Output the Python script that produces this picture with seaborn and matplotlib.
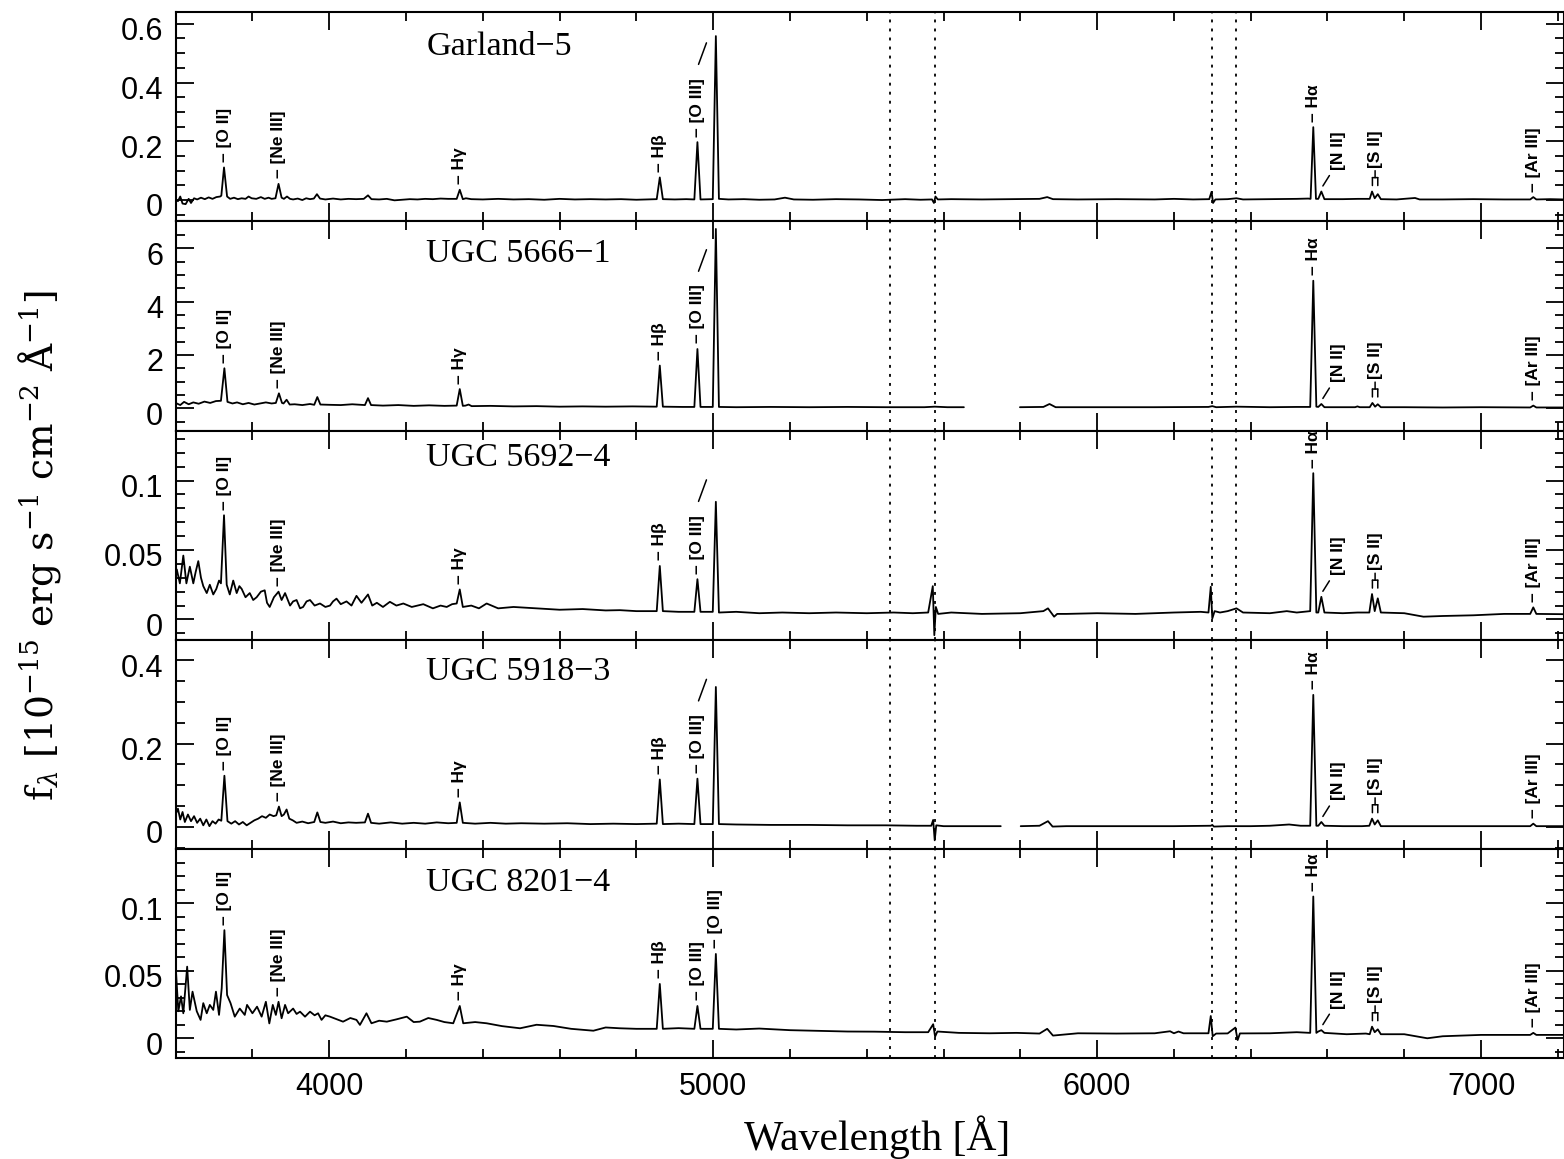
import numpy as np
import pandas as pd
import matplotlib
matplotlib.use("Agg")
import matplotlib.pyplot as plt
from matplotlib.transforms import ScaledTranslation
from matplotlib.ticker import MultipleLocator, FuncFormatter
import seaborn as sns

# ---------------------------------------------------------------------------
# Spectra: (wavelength [Å], f_lambda [1e-15 erg/s/cm^2/Å]) vertices.
# None marks a gap in the wavelength coverage.
# ---------------------------------------------------------------------------
GARLAND5 = [
    (3600, 0.003), (3606, -0.004), (3612, 0.012), (3618, -0.012), (3626, -0.014),
    (3634, 0.004), (3640, -0.010), (3648, 0.006), (3656, 0.002), (3666, 0.008),
    (3676, 0.003), (3686, 0.009), (3696, 0.004), (3706, 0.010), (3716, 0.012),
    (3719, 0.015), (3726, 0.111), (3734, 0.012), (3742, 0.004), (3752, 0.008),
    (3762, 0.003), (3772, 0.006), (3782, 0.004), (3790, 0.012), (3798, 0.006),
    (3810, 0.004), (3822, 0.010), (3832, 0.004), (3842, 0.008), (3850, 0.004),
    (3860, 0.006), (3868, 0.055), (3876, 0.008), (3882, 0.004), (3890, 0.012),
    (3898, 0.004), (3906, 0.002), (3918, 0.005), (3930, 0.000), (3940, 0.006),
    (3950, 0.003), (3960, 0.005), (3968, 0.020), (3976, 0.005), (3990, 0.002),
    (4010, 0.005), (4030, 0.002), (4050, 0.004), (4070, 0.003), (4090, 0.004),
    (4101, 0.016), (4110, 0.003), (4130, 0.002), (4150, 0.004), (4170, -0.001),
    (4190, 0.001), (4210, 0.003), (4230, 0.002), (4250, 0.004), (4270, 0.003),
    (4290, 0.005), (4310, 0.004), (4332, 0.004), (4340, 0.035), (4348, 0.003),
    (4356, 0.006), (4370, 0.003), (4400, 0.002), (4440, 0.004), (4480, 0.002),
    (4520, 0.003), (4560, 0.001), (4600, 0.004), (4640, 0.002), (4680, 0.003),
    (4720, 0.002), (4760, 0.003), (4800, 0.001), (4845, 0.003), (4853, 0.003),
    (4861, 0.077), (4869, 0.003), (4900, 0.002), (4930, 0.003), (4951, 0.002),
    (4959, 0.197), (4967, 0.002), (4999, 0.003), (5007, 0.558), (5015, 0.004),
    (5040, 0.002), (5080, 0.003), (5120, 0.001), (5160, 0.002), (5187, 0.008),
    (5210, 0.002), (5260, 0.001), (5320, 0.003), (5380, 0.002), (5440, 0.000),
    (5500, 0.003), (5540, 0.001), (5570, 0.002), (5575, -0.010), (5579, 0.012),
    (5585, 0.002), (5620, 0.003), (5700, 0.002), (5780, 0.003), (5850, 0.004),
    (5870, 0.010), (5885, 0.003), (5950, 0.002), (6050, 0.003), (6150, 0.002),
    (6200, 0.004), (6250, 0.002), (6292, 0.003), (6298, 0.028), (6302, -0.010),
    (6308, 0.002), (6340, 0.003), (6363, 0.006), (6380, 0.002), (6450, 0.003),
    (6520, 0.004), (6550, 0.005), (6556, 0.004), (6563, 0.248), (6570, 0.004),
    (6576, 0.004), (6584, 0.029), (6592, 0.003), (6640, 0.003), (6680, 0.004),
    (6710, 0.004), (6716, 0.029), (6723, 0.006), (6731, 0.020), (6739, 0.003),
    (6780, 0.002), (6828, 0.007), (6840, 0.002), (6900, 0.002), (6980, 0.003),
    (7060, 0.002), (7128, 0.002), (7136, 0.010), (7144, 0.002), (7180, 0.003),
    (7216, 0.002),
]

UGC5666_1 = [
    (3600, 0.20), (3612, 0.12), (3622, 0.24), (3634, 0.15), (3646, 0.22),
    (3660, 0.17), (3675, 0.25), (3690, 0.20), (3705, 0.27), (3718, 0.28),
    (3727, 1.50), (3735, 0.24), (3748, 0.18), (3760, 0.22), (3775, 0.15),
    (3790, 0.20), (3805, 0.14), (3820, 0.18), (3835, 0.22), (3850, 0.18),
    (3861, 0.20), (3869, 0.56), (3877, 0.20), (3881, 0.18), (3889, 0.32),
    (3897, 0.14), (3910, 0.15), (3930, 0.12), (3950, 0.16), (3961, 0.13),
    (3969, 0.42), (3977, 0.14), (4000, 0.13), (4030, 0.12), (4060, 0.15),
    (4093, 0.12), (4101, 0.38), (4109, 0.12), (4140, 0.10), (4180, 0.12),
    (4220, 0.09), (4260, 0.11), (4300, 0.09), (4332, 0.10), (4340, 0.72),
    (4348, 0.09), (4355, 0.10), (4363, 0.14), (4371, 0.08), (4420, 0.09),
    (4480, 0.07), (4540, 0.08), (4600, 0.06), (4660, 0.07), (4720, 0.06),
    (4790, 0.07), (4853, 0.06), (4861, 1.60), (4869, 0.06), (4920, 0.05),
    (4951, 0.05), (4959, 2.22), (4967, 0.05), (4999, 0.05), (5007, 6.72),
    (5015, 0.05), (5060, 0.04), (5150, 0.05), (5250, 0.04), (5350, 0.05),
    (5450, 0.04), (5550, 0.04), (5577, 0.06), (5610, 0.04), (5653, 0.04),
    None,
    (5799, 0.04), (5860, 0.05), (5876, 0.16), (5892, 0.04), (6000, 0.04),
    (6150, 0.04), (6290, 0.05), (6300, 0.08), (6310, 0.04), (6363, 0.06),
    (6450, 0.04), (6520, 0.05), (6555, 0.05), (6563, 4.78), (6571, 0.06),
    (6576, 0.05), (6584, 0.16), (6592, 0.04), (6640, 0.04), (6672, 0.04),
    (6678, 0.07), (6684, 0.04), (6710, 0.04), (6717, 0.20), (6724, 0.06),
    (6731, 0.15), (6739, 0.04), (6800, 0.04), (6900, 0.03), (7000, 0.04),
    (7128, 0.03), (7136, 0.10), (7144, 0.03), (7216, 0.03),
]

UGC5692_4 = [
    (3600, 0.030), (3603, 0.036), (3611, 0.026), (3620, 0.046), (3628, 0.026),
    (3637, 0.038), (3646, 0.026), (3652, 0.034), (3659, 0.042), (3666, 0.030),
    (3672, 0.024), (3681, 0.019), (3689, 0.025), (3698, 0.018), (3706, 0.022),
    (3713, 0.028), (3718, 0.026), (3726, 0.075), (3733, 0.025), (3741, 0.018),
    (3750, 0.028), (3759, 0.019), (3766, 0.024), (3772, 0.022), (3782, 0.016),
    (3793, 0.019), (3802, 0.014), (3811, 0.016), (3822, 0.020), (3832, 0.021),
    (3838, 0.012), (3845, 0.009), (3856, 0.016), (3868, 0.020), (3876, 0.014),
    (3885, 0.019), (3898, 0.010), (3906, 0.013), (3915, 0.014), (3924, 0.008),
    (3932, 0.009), (3941, 0.013), (3950, 0.014), (3962, 0.010), (3976, 0.0115),
    (3990, 0.009), (4002, 0.010), (4010, 0.013), (4019, 0.015), (4030, 0.011),
    (4045, 0.013), (4058, 0.010), (4071, 0.017), (4084, 0.012), (4101, 0.018),
    (4112, 0.010), (4124, 0.012), (4140, 0.009), (4158, 0.0127), (4175, 0.010),
    (4193, 0.0115), (4215, 0.009), (4245, 0.011), (4270, 0.008), (4290, 0.010),
    (4306, 0.009), (4320, 0.011), (4332, 0.0115), (4340, 0.0216), (4348, 0.009),
    (4370, 0.010), (4390, 0.008), (4410, 0.0115), (4440, 0.008), (4480, 0.009),
    (4540, 0.008), (4600, 0.007), (4660, 0.0075), (4720, 0.0065), (4757, 0.0067),
    (4800, 0.006), (4853, 0.006), (4861, 0.0385), (4869, 0.006), (4910, 0.0055),
    (4951, 0.0055), (4959, 0.029), (4967, 0.0055), (4999, 0.0055), (5007, 0.0847),
    (5015, 0.005), (5060, 0.0055), (5120, 0.0045), (5180, 0.005), (5250, 0.0045),
    (5320, 0.005), (5400, 0.0045), (5470, 0.005), (5520, 0.0045), (5560, 0.005),
    (5572, 0.024), (5576, -0.0113), (5580, 0.009), (5586, 0.004), (5620, 0.005),
    (5700, 0.004), (5800, 0.0045), (5860, 0.006), (5872, 0.008), (5880, 0.005),
    (5888, 0.002), (5896, 0.004), (5920, 0.004), (6000, 0.0045), (6100, 0.004),
    (6200, 0.005), (6270, 0.0055), (6290, 0.005), (6296, 0.0235), (6300, 0.0007),
    (6306, 0.006), (6320, 0.005), (6340, 0.006), (6363, 0.008), (6380, 0.005),
    (6450, 0.0045), (6494, 0.006), (6520, 0.005), (6555, 0.006), (6563, 0.1053),
    (6571, 0.005), (6576, 0.005), (6584, 0.0163), (6592, 0.005), (6640, 0.0045),
    (6678, 0.005), (6709, 0.005), (6716, 0.0183), (6723, 0.006), (6731, 0.0152),
    (6739, 0.005), (6800, 0.0045), (6850, 0.002), (6900, 0.0025), (6980, 0.003),
    (7060, 0.004), (7128, 0.004), (7136, 0.0087), (7144, 0.004), (7216, 0.0038),
]

UGC5918_3 = [
    (3600, 0.030), (3606, 0.044), (3612, 0.018), (3618, 0.036), (3624, 0.012),
    (3632, 0.030), (3640, 0.014), (3648, 0.026), (3656, 0.010), (3664, 0.020),
    (3672, 0.004), (3680, 0.018), (3688, 0.002), (3696, 0.014), (3704, 0.008),
    (3712, 0.018), (3719, 0.015), (3727, 0.123), (3735, 0.014), (3745, 0.008),
    (3755, 0.014), (3765, 0.006), (3775, 0.012), (3785, 0.004), (3795, 0.010),
    (3805, 0.016), (3815, 0.020), (3825, 0.026), (3835, 0.022), (3845, 0.030),
    (3855, 0.026), (3862, 0.028), (3869, 0.049), (3876, 0.026), (3882, 0.030),
    (3889, 0.042), (3896, 0.020), (3905, 0.016), (3915, 0.010), (3930, 0.013),
    (3945, 0.009), (3961, 0.012), (3969, 0.035), (3977, 0.012), (3990, 0.010),
    (4010, 0.013), (4030, 0.009), (4050, 0.011), (4070, 0.010), (4093, 0.011),
    (4101, 0.032), (4109, 0.010), (4130, 0.008), (4160, 0.011), (4190, 0.008),
    (4220, 0.010), (4250, 0.008), (4280, 0.011), (4310, 0.009), (4332, 0.010),
    (4340, 0.059), (4348, 0.010), (4380, 0.008), (4420, 0.010), (4460, 0.008),
    (4500, 0.009), (4560, 0.008), (4620, 0.009), (4680, 0.007), (4740, 0.008),
    (4800, 0.007), (4853, 0.008), (4861, 0.114), (4869, 0.007), (4910, 0.008),
    (4951, 0.007), (4959, 0.116), (4967, 0.007), (4999, 0.007), (5007, 0.336),
    (5015, 0.007), (5060, 0.006), (5150, 0.005), (5250, 0.005), (5350, 0.004),
    (5450, 0.004), (5530, 0.003), (5568, 0.003), (5573, 0.017), (5577, -0.032),
    (5581, 0.004), (5600, 0.002), (5680, 0.002), (5749, 0.002),
    None,
    (5801, 0.002), (5850, 0.003), (5872, 0.014), (5884, 0.001), (5920, 0.002),
    (6000, 0.002), (6100, 0.002), (6200, 0.002), (6296, 0.003), (6300, 0.005),
    (6304, 0.001), (6340, 0.002), (6363, 0.002), (6400, 0.002), (6450, 0.003),
    (6500, 0.006), (6530, 0.003), (6555, 0.003), (6563, 0.317), (6571, 0.003),
    (6576, 0.003), (6584, 0.012), (6592, 0.003), (6640, 0.002), (6690, 0.002),
    (6709, 0.003), (6716, 0.020), (6723, 0.006), (6731, 0.016), (6739, 0.002),
    (6800, 0.002), (6900, 0.002), (7000, 0.002), (7128, 0.002), (7136, 0.008),
    (7144, 0.002), (7216, 0.002),
]

UGC8201_4 = [
    (3601, 0.049), (3607, 0.020), (3614, 0.031), (3620, 0.0185), (3630, 0.053),
    (3637, 0.021), (3644, 0.0345), (3655, 0.020), (3665, 0.0136), (3672, 0.026),
    (3681, 0.0185), (3689, 0.0247), (3698, 0.021), (3705, 0.0345), (3713, 0.0173),
    (3720, 0.037), (3727, 0.080), (3734, 0.032), (3743, 0.026), (3754, 0.016),
    (3767, 0.022), (3780, 0.0173), (3786, 0.0247), (3800, 0.0185), (3812, 0.0234),
    (3824, 0.016), (3835, 0.027), (3844, 0.011), (3853, 0.0247), (3861, 0.0173),
    (3868, 0.027), (3876, 0.0148), (3885, 0.0247), (3893, 0.0185), (3906, 0.022),
    (3915, 0.018), (3924, 0.0197), (3937, 0.016), (3950, 0.0197), (3962, 0.017),
    (3971, 0.0185), (3980, 0.0136), (3990, 0.017), (4002, 0.016), (4020, 0.014),
    (4036, 0.0123), (4055, 0.015), (4071, 0.0136), (4080, 0.0099), (4097, 0.0185),
    (4110, 0.0111), (4130, 0.013), (4150, 0.0123), (4175, 0.014), (4202, 0.016),
    (4220, 0.012), (4236, 0.0123), (4258, 0.015), (4280, 0.0136), (4300, 0.012),
    (4323, 0.0111), (4340, 0.0239), (4349, 0.0111), (4380, 0.012), (4410, 0.0111),
    (4450, 0.009), (4497, 0.0074), (4540, 0.010), (4584, 0.0091), (4630, 0.007),
    (4688, 0.0056), (4720, 0.008), (4757, 0.0074), (4800, 0.007), (4853, 0.007),
    (4861, 0.0402), (4869, 0.007), (4910, 0.0075), (4951, 0.007), (4959, 0.0239),
    (4967, 0.007), (4999, 0.007), (5007, 0.0624), (5015, 0.007), (5060, 0.0065),
    (5120, 0.0072), (5200, 0.006), (5280, 0.0055), (5350, 0.005), (5420, 0.0049),
    (5500, 0.0045), (5560, 0.0045), (5573, 0.0104), (5578, 0.0012), (5584, 0.005),
    (5640, 0.004), (5720, 0.0037), (5790, 0.004), (5850, 0.0035), (5870, 0.007),
    (5885, 0.002), (5950, 0.0037), (6050, 0.0035), (6150, 0.0037), (6190, 0.0052),
    (6200, 0.0037), (6212, 0.005), (6225, 0.0037), (6290, 0.0037), (6296, 0.0165),
    (6301, 0.0015), (6310, 0.0035), (6340, 0.0036), (6360, 0.0079), (6366, -0.0013),
    (6372, 0.0036), (6450, 0.0037), (6520, 0.0045), (6555, 0.004), (6563, 0.1049),
    (6571, 0.004), (6576, 0.005), (6584, 0.006), (6592, 0.004), (6650, 0.003),
    (6700, 0.0035), (6710, 0.003), (6716, 0.0086), (6723, 0.0045), (6731, 0.0066),
    (6739, 0.003), (6800, 0.003), (6860, 0.000), (6900, 0.0015), (7000, 0.0025),
    (7128, 0.0025), (7136, 0.004), (7144, 0.0025), (7216, 0.0025),
]

SPECTRA = [GARLAND5, UGC5666_1, UGC5692_4, UGC5918_3, UGC8201_4]
NAMES = ["Garland\u22125", "UGC 5666\u22121", "UGC 5692\u22124",
         "UGC 5918\u22123", "UGC 8201\u22124"]
YLIMS = [(-0.073, 0.639), (-0.84, 7.0), (-0.0147, 0.1359),
         (-0.053, 0.449), (-0.0148, 0.140)]
YMAJOR = [0.2, 2, 0.05, 0.2, 0.05]
YMINOR = [0.05, 0.5, 0.01, 0.05, 0.01]
NAME_Y = [0.795, 0.808, 0.829, 0.810, 0.801]   # baseline, axes fraction
XLIM = (3600, 7216)
SKY_LINES = [5460, 5577, 6300, 6363]

# Emission lines marked with a tick and a vertical label
SIMPLE_LINES = [("[O II]", 3727), ("[Ne III]", 3869), ("H\u03b3", 4340),
                ("H\u03b2", 4861), ("[O III]", 4959), ("H\u03b1", 6563),
                ("[Ar III]", 7136)]
OIII_RED = 5007
NII = 6584
SII_PAIR = (6717, 6731)
# panels where [O III] 5007 has its own label instead of the slanted link
OIII_SEPARATE = [False, False, False, False, True]

# ---------------------------------------------------------------------------
sns.set_theme(style="ticks", rc={
    "text.color": "black", "axes.labelcolor": "black",
    "xtick.color": "black", "ytick.color": "black",
    "axes.edgecolor": "black", "axes.linewidth": 1.5,
})
plt.rcParams["font.family"] = ["Liberation Sans", "DejaVu Sans"]
plt.rcParams["mathtext.fontset"] = "dejavuserif"

fig, axes = plt.subplots(5, 1, sharex=True, figsize=(15.64, 11.59), dpi=100)
fig.subplots_adjust(left=0.1123, right=1.0, top=0.9894, bottom=0.0869, hspace=0)

LABEL_FONT = dict(family=["Liberation Sans", "DejaVu Sans"], fontsize=12.5,
                  fontweight="bold", color="black")


def to_frame(vertices):
    rows, seg = [], 0
    for v in vertices:
        if v is None:
            seg += 1
            continue
        rows.append((v[0], v[1], seg))
    return pd.DataFrame(rows, columns=["wave", "flux", "segment"])


def peak(df, lam, win=6):
    sel = df[(df["wave"] - lam).abs() <= win]
    return sel["flux"].max()


def shifted(ax, dx_pt, dy_pt):
    return ax.transData + ScaledTranslation(dx_pt / 72, dy_pt / 72,
                                            fig.dpi_scale_trans)


def stroke(ax, p0, off0, p1, off1, lw=1.1):
    ax.annotate("", xy=p1, xycoords=shifted(ax, *off1),
                xytext=p0, textcoords=shifted(ax, *off0),
                arrowprops=dict(arrowstyle="-", lw=lw, color="black",
                                shrinkA=0, shrinkB=0))


GAP = 4.0  # pt between a line peak and its tick mark
LABEL_DROP = ScaledTranslation(0, -3.5 / 72, fig.dpi_scale_trans)

for i, ax in enumerate(axes):
    df = to_frame(SPECTRA[i])
    for lam in SKY_LINES:
        ax.axvline(lam, color="black", lw=1.3, ls=(0, (1.6, 3.4)), zorder=1)
    sns.lineplot(data=df, x="wave", y="flux", units="segment", estimator=None,
                 sort=False, color="black", linewidth=1.3, ax=ax, legend=False,
                 zorder=3)

    ax.set_xlim(*XLIM)
    ax.set_ylim(*YLIMS[i])
    ax.set_xlabel("")
    ax.set_ylabel("")
    ax.xaxis.set_major_locator(MultipleLocator(1000))
    ax.xaxis.set_minor_locator(MultipleLocator(200))
    ax.yaxis.set_major_locator(MultipleLocator(YMAJOR[i]))
    ax.yaxis.set_minor_locator(MultipleLocator(YMINOR[i]))
    ax.yaxis.set_major_formatter(FuncFormatter(lambda v, p: f"{round(v, 6):g}"))
    ax.tick_params(which="both", direction="in", top=True, right=True,
                   width=1.3, colors="black", labelsize=22)
    ax.tick_params(which="major", length=13)
    ax.tick_params(which="minor", length=6.7)
    ax.tick_params(axis="x", pad=10)
    ax.tick_params(axis="y", pad=9)
    for sp in ax.spines.values():
        sp.set_linewidth(1.5)
        sp.set_color("black")
    # y tick labels sit slightly below their ticks
    for tick in ax.yaxis.get_major_ticks():
        tick.label1.set_transform(tick.label1.get_transform() + LABEL_DROP)

    ax.text(4253, NAME_Y[i], NAMES[i], transform=ax.get_xaxis_transform(),
            fontsize=24.5, family=["Liberation Serif", "DejaVu Serif"],
            ha="left", va="baseline", color="black")

    # simple tick + label marks
    lines = list(SIMPLE_LINES)
    if OIII_SEPARATE[i]:
        lines.append(("[O III]", OIII_RED))
    for name, lam in lines:
        p = peak(df, lam)
        ax.text(lam, p, "\u2013 " + name, transform=shifted(ax, 0, GAP),
                rotation=90, ha="center", va="bottom", **LABEL_FONT)

    # slanted link from the [O III] 4959 label to the 5007 line
    if not OIII_SEPARATE[i]:
        p = peak(df, 4959)
        stroke(ax, (4959, p), (0.8, 56), (4959, p), (6.5, 71.5))

    # [N II] 6584: label offset to the right with a slanted pointer
    p = peak(df, NII)
    stroke(ax, (NII, p), (1.1, 4.0), (NII, p), (5.8, 11.5))
    ax.text(NII, p, "[N II]", transform=shifted(ax, 12.6, 15.5),
            rotation=90, ha="center", va="bottom", **LABEL_FONT)

    # [S II] doublet: bracket joining both lines
    a, b = SII_PAIR
    p = max(peak(df, a), peak(df, b))
    stroke(ax, (a, p), (0, 4.3), (a, p), (0, 10.0))
    stroke(ax, (b, p), (0, 4.3), (b, p), (0, 10.0))
    stroke(ax, (a, p), (0, 10.0), (b, p), (0, 10.0))
    mid = 0.5 * (a + b)
    stroke(ax, (mid, p), (0, 10.0), (mid, p), (0, 15.0))
    ax.text(mid, p, "[S II]", transform=shifted(ax, 0, 17.0),
            rotation=90, ha="center", va="bottom", **LABEL_FONT)

fig.text(877 / 1564, 1 - 1137 / 1159, "Wavelength [\u00c5]",
         fontsize=30, family=["Liberation Serif", "DejaVu Serif"],
         ha="center", va="center", color="black")
fig.text(40 / 1564, 1 - 546 / 1159,
         "f$_{\\lambda}$ [10$^{-15}$ erg s$^{-1}$ cm$^{-2}$ \u00c5$^{-1}$]",
         fontsize=27, family=["DejaVu Serif"], rotation=90,
         ha="center", va="center", color="black")

fig.savefig("out.png", dpi=100)
